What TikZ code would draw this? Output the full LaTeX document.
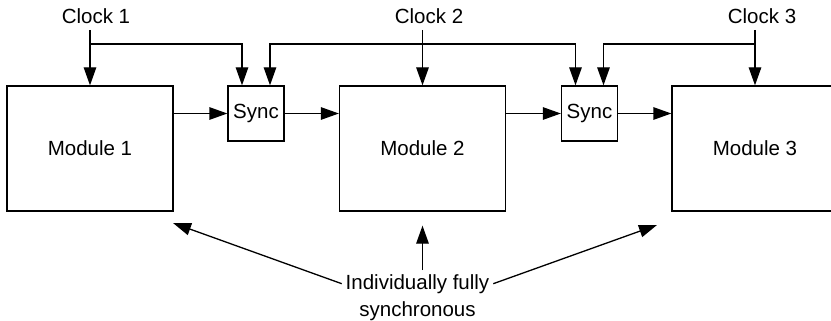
\documentclass[tikz,border=0pt]{standalone}
\usepackage{fontspec}
\setmainfont{Liberation Sans}
\usetikzlibrary{arrows.meta, positioning}

\begin{document}
\begin{tikzpicture}[x=1pt, y=-1pt, line width=1.3pt,
		font=\fontsize{20.5}{27}\selectfont,
		module/.style={draw, minimum width=166pt, minimum height=125pt},
		sync/.style={draw, minimum width=56pt, minimum height=55pt, inner sep=0pt},
		clock/.style={anchor=south, inner sep=6pt},
		arr/.style={-{Triangle[length=18pt,width=12.5pt]}}]
		\useasboundingbox (0,0) rectangle (831,321);
		\clip (0,0) rectangle (831,321);
		\node[module] (m1) at (90,148.5) {Module 1};
		\node[module] (m2) at (422.5,148.5) {Module 2};
		\node[module] (m3) at (755,148.5) {Module 3};
		\node[sync] (s1) at (256,113.5) {Sync};
		\node[sync] (s2) at (589.5,113.5) {Sync};
		\node[clock] (c1) at (96,30) {Clock 1};
		\node[clock] (c2) at (429,30) {Clock 2};
		\node[clock] (c3) at (762,30) {Clock 3};
		\coordinate (s1a) at ([xshift=-14pt]s1.north);
		\coordinate (s1b) at ([xshift=14pt]s1.north);
		\coordinate (s2a) at ([xshift=-14pt]s2.north);
		\coordinate (s2b) at ([xshift=14pt]s2.north);
		\coordinate (bus) at (0,44);
		% clock lines
		\draw[arr] (m1.north |- c1.south) -- (m1.north);
		\draw[arr] (m1.north |- bus) -| (s1a);
		\draw[arr] (m2.north |- c2.south) -- (m2.north);
		\draw[arr] (m2.north |- bus) -| (s1b);
		\draw[arr] (m2.north |- bus) -| (s2a);
		\draw[arr] (m3.north |- c3.south) -- (m3.north);
		\draw[arr] (m3.north |- bus) -| (s2b);
		% data path
		\draw[arr] (s1.west -| m1.east) -- (s1.west);
		\draw[arr] (s1.east) -- (s1.east -| m2.west);
		\draw[arr] (s2.west -| m2.east) -- (s2.west);
		\draw[arr] (s2.east) -- (s2.east -| m3.west);
		% label
		\node[anchor=base] (ind) at (417.5,289) {Individually fully};
		\node[anchor=base] (syn) at (417.5,316) {synchronous};
		\coordinate (t1) at (173,223);
		\coordinate (t3) at (657,225);
		\draw[arr] (ind.west) -- (t1);
		\draw[arr] (m2.south |- ind.north) -- ([yshift=-14pt]m2.south);
		\draw[arr] (ind.east) -- (t3);
	\end{tikzpicture}
\end{document}
